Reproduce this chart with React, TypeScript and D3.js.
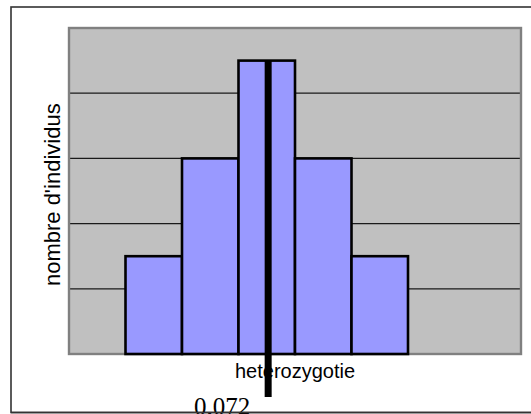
import React from "react";
import * as d3 from "d3";

// bins of heterozygosity (x0..x1) and number of individuals
const binStarts = [0.0015, 0.0215, 0.0415, 0.0615, 0.0815, 0.1015, 0.1215, 0.1415];
const binWidth = 0.02;
const counts = [0, 3, 6, 9, 6, 3, 0, 0];
const yTicks = [0, 2, 4, 6, 8, 10];
const observedValue = 0.072;
const observedLabel = "0.072";
const xTitle = "heterozygotie";
const yTitle = "nombre d'individus";

export default function App() {
  const W = 531, H = 414;
  const left = 69, right = 521, top = 28, bottom = 354;
  const x = d3.scaleLinear().domain([binStarts[0], binStarts[binStarts.length - 1] + binWidth]).range([left, right]);
  const y = d3.scaleLinear().domain([0, 10]).range([bottom, top]);
  const maxCount = d3.max(counts) as number;
  const lx = x(observedValue);

  return (
    <svg width={W} height={H} style={{ position: "absolute", left: 0, top: 0 }} xmlns="http://www.w3.org/2000/svg">
      <rect x={0} y={0} width={W} height={H} fill="#ffffff" />
      <rect x={11} y={7} width={540} height={405.5} fill="#ffffff" stroke="#333333" strokeWidth={1.6} />
      <rect x={left} y={top} width={right - left} height={bottom - top} fill="#c0c0c0" />
      {yTicks.slice(1, -1).map((t) => (
        <line key={t} x1={left} x2={right} y1={y(t)} y2={y(t)} stroke="#1a1a1a" strokeWidth={1.2} />
      ))}
      <rect x={left} y={top} width={right - left} height={bottom - top} fill="none" stroke="#808080" strokeWidth={2.4} />
      {counts.map((c, i) =>
        c > 0 ? (
          <rect
            key={i}
            x={x(binStarts[i])}
            y={y(c)}
            width={x(binStarts[i] + binWidth) - x(binStarts[i])}
            height={y(0) - y(c)}
            fill="#9999ff"
            stroke="#000000"
            strokeWidth={2.6}
          />
        ) : null
      )}
      <text x={(left + right) / 2} y={377.5} textAnchor="middle" fontFamily="'Liberation Sans', Arial, sans-serif" fontSize={20} fill="#000">
        {xTitle}
      </text>
      <line x1={lx} x2={lx} y1={y(maxCount)} y2={397} stroke="#000" strokeWidth={7} />
      <text transform={`translate(60,194.7) rotate(-90)`} textAnchor="middle" fontFamily="'Liberation Sans', Arial, sans-serif" fontSize={22} fill="#000">
        {yTitle}
      </text>
      <text x={lx - 18} y={415} textAnchor="end" fontFamily="'Liberation Serif', 'Times New Roman', serif" fontSize={25} fill="#000">
        {observedLabel}
      </text>
      <line x1={11} x2={W} y1={412.5} y2={412.5} stroke="#333333" strokeWidth={1.6} />
    </svg>
  );
}
